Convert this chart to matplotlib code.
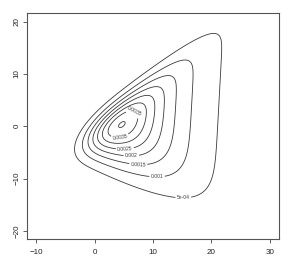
import math

import matplotlib
matplotlib.use("Agg")
import matplotlib.pyplot as plt
import numpy as np

plt.rcParams["font.family"] = ["Liberation Sans", "DejaVu Sans"]

# grid the density was evaluated on (as in the R contour() call)
x_range = [-10, 30]
y_range = [-20, 20]

# contour levels and their R-style labels
levels = [5e-4, 1e-3, 1.5e-3, 2e-3, 2.5e-3, 3e-3, 3.5e-3, 4e-3]
level_labels = ["5e-04", "0.001", "0.0015", "0.002", "0.0025", "0.003", "0.0035", "0.004"]

# density surface:
# scale * exp(-(x + drift*y)/decay) * Phi(dist to upper edge) * Phi(dist to lower edge)
scale = 0.011566
decay = 6.712
drift = -0.0488
upper_edge = [-1.3611, 1.0373]   # intercept, slope
lower_edge = [0.5206, -0.8989]   # intercept, slope
edge_spread = [1.731, 3.908]     # upper, lower

# where R put the labels (one per labelled level)
label_spots = [(15.2, -14.1), (10.7, -9.6), (7.5, -7.2), (6.3, -5.8),
               (5.2, -4.4), (7.0, 3.3), (4.3, -1.7)]


def erf(t):
    s = np.sign(t)
    a = np.abs(t)
    k = 1.0 / (1.0 + 0.3275911 * a)
    poly = k * (0.254829592 + k * (-0.284496736 + k * (1.421413741
           + k * (-1.453152027 + k * 1.061405429))))
    return s * (1 - poly * np.exp(-a * a))


def norm_cdf(t):
    return 0.5 * (1 + erf(t / math.sqrt(2)))


def density(x, y):
    c1, k1 = upper_edge
    c2, k2 = lower_edge
    d1 = (k1 * x + c1 - y) / math.hypot(1, k1)
    d2 = (y - k2 * x - c2) / math.hypot(1, k2)
    return (scale * np.exp(-(x + drift * y) / decay)
            * norm_cdf(d1 / edge_spread[0]) * norm_cdf(d2 / edge_spread[1]))


def main() -> None:
    xs = np.linspace(x_range[0], x_range[1], 201)
    ys = np.linspace(y_range[0], y_range[1], 201)
    X, Y = np.meshgrid(xs, ys)
    Z = density(X, Y)

    fig = plt.figure(figsize=(2.88, 2.71), dpi=100)
    ax = fig.add_axes([0.093, 0.117, 0.876, 0.834])

    cs = ax.contour(X, Y, Z, levels=levels, colors="#3a3a3a", linewidths=0.6)
    fmt = dict(zip(levels, level_labels))
    ax.clabel(cs, levels=levels[:-1], inline=True, inline_spacing=2,
              fontsize=3.6, fmt=fmt, manual=label_spots)

    pad_x = 0.04 * (x_range[1] - x_range[0])
    pad_y = 0.04 * (y_range[1] - y_range[0])
    ax.set_xlim(x_range[0] - pad_x, x_range[1] + pad_x)
    ax.set_ylim(y_range[0] - pad_y, y_range[1] + pad_y)
    ax.set_xticks([-10, 0, 10, 20, 30])
    ax.set_yticks([-20, -10, 0, 10, 20])
    ax.tick_params(direction="out", length=3, width=0.6, labelsize=5.8,
                   color="#444444", labelcolor="#222222")
    ax.tick_params(axis="x", pad=4)
    ax.tick_params(axis="y", pad=1.5)
    for lab in ax.get_yticklabels():
        lab.set_rotation(90)
        lab.set_va("center")
    for side in ax.spines.values():
        side.set_linewidth(0.8)
        side.set_color("#555555")

    fig.savefig("out.png", dpi=100)
    plt.close(fig)


if __name__ == "__main__":
    main()
